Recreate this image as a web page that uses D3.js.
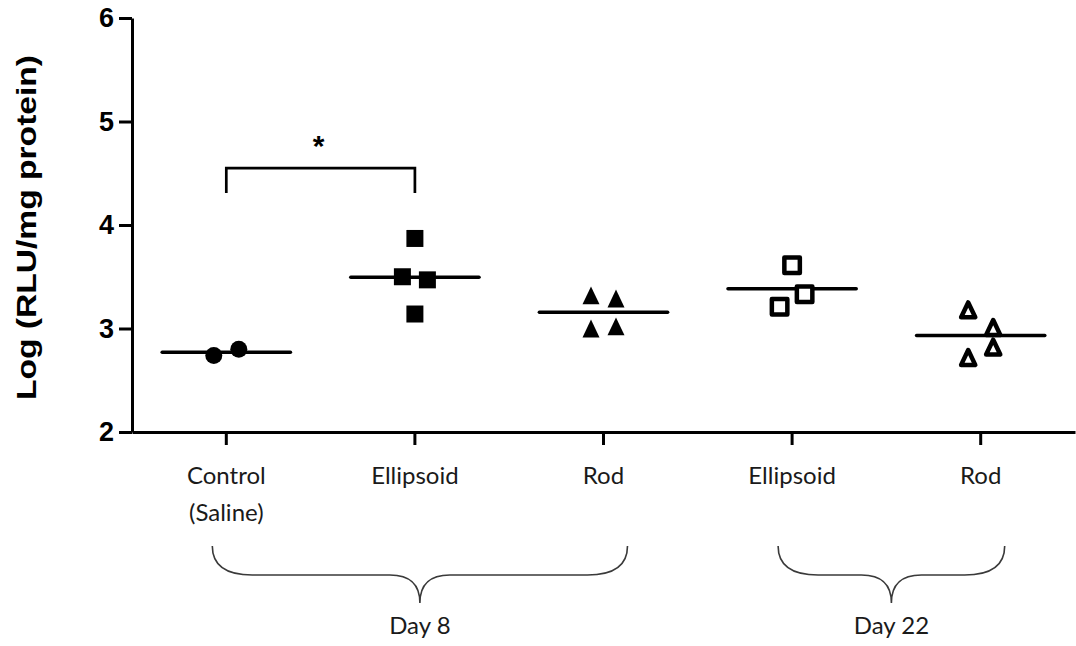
<!DOCTYPE html>
<html>
<head>
<meta charset="utf-8">
<script src="https://cdn.jsdelivr.net/npm/d3@7"></script>
<style>
  body { margin: 0; background: #fff; }
</style>
</head>
<body>
<script>
// values, log(RLU/mg protein)
var groups = ["Control\n(Saline)", "Ellipsoid", "Rod", "Ellipsoid", "Rod"];
var control = [2.74, 2.80];
var ellipsoidD8 = [3.87, 3.50, 3.47, 3.14];
var rodD8 = [3.32, 3.29, 3.00, 3.02];
var ellipsoidD22 = [3.61, 3.21, 3.33];
var rodD22 = [3.18, 3.01, 2.72, 2.82];
var yTicks = [2, 3, 4, 5, 6];
var dayLabels = ["Day 8", "Day 22"];
var dayFrom = [0, 3];
var dayTo = [2, 4];

var series = [control, ellipsoidD8, rodD8, ellipsoidD22, rodD22];

var width = 1076, height = 646;
var mLeft = 132, mRight = 1075, mTop = 18, mBottom = 432;

var svg = d3.select("body").append("svg")
  .attr("width", width)
  .attr("height", height);

var x = d3.scaleBand().domain(d3.range(groups.length)).range([mLeft, mRight]);
var y = d3.scaleLinear().domain([2, 6]).range([mBottom, mTop]);
var cx = function(i) { return x(i) + x.bandwidth() / 2; };

// custom triangle, a bit taller than equilateral like Prism draws it
var triangle = {
  draw: function(ctx, size) {
    var w = Math.sqrt(size), h = w * 1.05;
    ctx.moveTo(0, -h / 2);
    ctx.lineTo(w / 2, h / 2);
    ctx.lineTo(-w / 2, h / 2);
    ctx.closePath();
  }
};
var markers = [
  { type: d3.symbolCircle, size: 227, fill: "#000", stroke: "none", sw: 0 },
  { type: d3.symbolSquare, size: 289, fill: "#000", stroke: "none", sw: 0 },
  { type: triangle, size: 289, fill: "#000", stroke: "none", sw: 0 },
  { type: d3.symbolSquare, size: 240, fill: "#fff", stroke: "#000", sw: 4.5 },
  { type: triangle, size: 200, fill: "#fff", stroke: "#000", sw: 4.5 }
];

// put close values side by side (rows of points), keep entry order left to right
function dodge(vals) {
  var idx = vals.map(function(v, i) { return i; })
    .sort(function(a, b) { return vals[b] - vals[a]; });
  var rows = [], cur = null;
  idx.forEach(function(i) {
    if (cur && y(vals[i]) - y(vals[cur[0]]) < 20) cur.push(i);
    else { cur = [i]; rows.push(cur); }
  });
  var off = [];
  rows.forEach(function(r) {
    r.sort(function(a, b) { return a - b; });
    r.forEach(function(i, k) { off[i] = (k - (r.length - 1) / 2) * 25; });
  });
  return off;
}

// axes
var yAxis = d3.axisLeft(y).tickValues(yTicks).tickFormat(d3.format("d"))
  .tickSize(13).tickPadding(5).tickSizeOuter(0);
var gy = svg.append("g").attr("transform", "translate(" + mLeft + ",0)").call(yAxis);
gy.selectAll("path, line").attr("stroke", "#000").attr("stroke-width", 3);
gy.selectAll("text")
  .attr("fill", "#000")
  .style("font-family", "'Liberation Sans', Arial, sans-serif")
  .style("font-weight", "bold")
  .style("font-size", "27px");

var xAxis = d3.axisBottom(x).tickSize(13).tickSizeOuter(0).tickFormat("");
var gx = svg.append("g").attr("transform", "translate(0," + mBottom + ")").call(xAxis);
gx.selectAll("path, line").attr("stroke", "#000").attr("stroke-width", 3);

// category labels (two lines for the control)
var labels = svg.append("g")
  .style("font-family", "Lato, 'Open Sans', sans-serif")
  .style("font-size", "24px")
  .attr("fill", "#1a1a1a")
  .attr("text-anchor", "middle");
groups.forEach(function(g, i) {
  var t = labels.append("text").attr("x", cx(i)).attr("y", 484);
  g.split("\n").forEach(function(line, k) {
    t.append("tspan").attr("x", cx(i)).attr("dy", k ? 37 : 0).text(line);
  });
});

// y title
svg.append("text")
  .attr("transform", "translate(36," + ((55 + 400) / 2) + ") rotate(-90)")
  .attr("text-anchor", "middle")
  .attr("textLength", 345)
  .attr("lengthAdjust", "spacingAndGlyphs")
  .style("font-family", "'Liberation Sans', Arial, sans-serif")
  .style("font-weight", "bold")
  .style("font-size", "27px")
  .text("Log (RLU/mg protein)");

// mean lines
var half = x.step() * 0.34;
svg.append("g").selectAll("line").data(series).enter().append("line")
  .attr("x1", function(d, i) { return cx(i) - half; })
  .attr("x2", function(d, i) { return cx(i) + half; })
  .attr("y1", function(d) { return y(d3.mean(d)); })
  .attr("y2", function(d) { return y(d3.mean(d)); })
  .attr("stroke", "#000")
  .attr("stroke-width", 3.5)
  .attr("stroke-linecap", "round");

// points
series.forEach(function(vals, i) {
  var off = dodge(vals);
  var m = markers[i];
  svg.append("g").selectAll("path").data(vals).enter().append("path")
    .attr("d", d3.symbol().type(m.type).size(m.size))
    .attr("transform", function(d, k) {
      return "translate(" + (cx(i) + off[k]) + "," + y(d) + ")";
    })
    .attr("fill", m.fill)
    .attr("stroke", m.stroke)
    .attr("stroke-width", m.sw)
    .attr("stroke-linejoin", "round");
});

// significance bracket control vs day 8 ellipsoid
svg.append("path")
  .attr("d", "M" + cx(0) + "," + y(4.31) + "V" + y(4.55) + "H" + cx(1) + "V" + y(4.31))
  .attr("fill", "none")
  .attr("stroke", "#000")
  .attr("stroke-width", 2.7);
svg.append("text")
  .attr("x", (cx(0) + cx(1)) / 2 - 2)
  .attr("y", 156)
  .attr("text-anchor", "middle")
  .style("font-family", "'Liberation Sans', Arial, sans-serif")
  .style("font-weight", "bold")
  .style("font-size", "30px")
  .text("*");

// curly braces for the days
var bTop = 546, bMid = 575, bTip = 603;
dayLabels.forEach(function(lab, j) {
  var x0 = cx(dayFrom[j]) - 14, x1 = cx(dayTo[j]) + 24, xm = (x0 + x1) / 2;
  var p = d3.path();
  p.moveTo(x0, bTop);
  p.quadraticCurveTo(x0, bMid, x0 + 40, bMid);
  p.lineTo(xm - 30, bMid);
  p.quadraticCurveTo(xm, bMid, xm, bTip);
  p.quadraticCurveTo(xm, bMid, xm + 30, bMid);
  p.lineTo(x1 - 40, bMid);
  p.quadraticCurveTo(x1, bMid, x1, bTop);
  svg.append("path")
    .attr("d", p.toString())
    .attr("fill", "none")
    .attr("stroke", "#3a3a3a")
    .attr("stroke-width", 1.6);
  svg.append("text")
    .attr("x", xm)
    .attr("y", 634)
    .attr("text-anchor", "middle")
    .attr("fill", "#1a1a1a")
    .style("font-family", "Lato, 'Open Sans', sans-serif")
    .style("font-size", "24px")
    .text(lab);
});
</script>
</body>
</html>
